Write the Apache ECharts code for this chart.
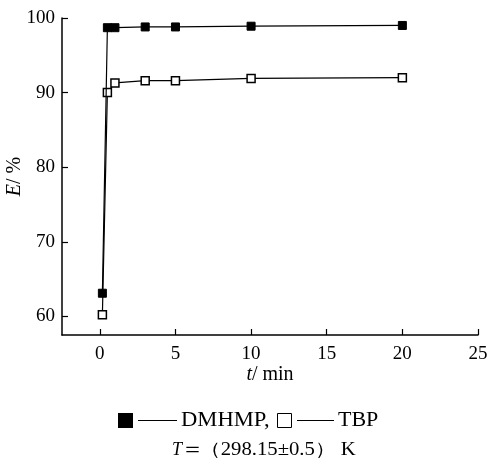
<!DOCTYPE html>
<html>
<head>
<meta charset="utf-8">
<script src="https://cdn.jsdelivr.net/npm/echarts@6/dist/echarts.min.js"></script>
<style>
  html, body { margin: 0; padding: 0; background: #fff; }
  #chart { width: 491px; height: 463px; }
</style>
</head>
<body>
<div id="chart"></div>
<script>
// Extraction efficiency E (%) versus contact time t (min)
const timeMin = [0.17, 0.5, 1, 3, 5, 10, 20];
const dmhmpE = [63.1, 98.7, 98.7, 98.8, 98.8, 98.9, 99.0];
const tbpE = [60.2, 90.0, 91.3, 91.6, 91.6, 91.9, 92.0];
const xTicks = [0, 5, 10, 15, 20, 25];
const yTicks = [60, 70, 80, 90, 100];

const SERIF = '"Liberation Serif", "Times New Roman", serif';
const chart = echarts.init(document.getElementById('chart'));

function pairs(xs, ys) {
  return xs.map((x, i) => [x, ys[i]]);
}

function axisLine() {
  return { show: true, onZero: false, lineStyle: { color: '#000', width: 1.5 } };
}
function axisTick(values) {
  return { show: true, inside: true, length: 6, customValues: values, lineStyle: { color: '#000', width: 1.2 } };
}
const nameRich = {
  i: { fontStyle: 'italic', fontFamily: SERIF, fontSize: 20, color: '#000' },
  n: { fontFamily: SERIF, fontSize: 20, color: '#000' }
};

chart.setOption({
  animation: false,
  backgroundColor: '#fff',
  grid: { left: 62, right: 13, top: 18, bottom: 128, containLabel: false, outerBoundsMode: 'none' },
  xAxis: {
    type: 'value',
    min: -2.5,
    max: 25,
    axisLine: axisLine(),
    axisTick: axisTick(xTicks),
    splitLine: { show: false },
    axisLabel: { customValues: xTicks, color: '#000', fontFamily: SERIF, fontSize: 19, margin: 10 },
    name: '{i|t}{n|/ min}',
    nameLocation: 'middle',
    nameGap: 30,
    nameMoveOverlap: false,
    nameTextStyle: { color: '#000', fontFamily: SERIF, fontSize: 20, rich: nameRich }
  },
  yAxis: {
    type: 'value',
    min: 57.5,
    max: 100,
    axisLine: axisLine(),
    axisTick: axisTick(yTicks),
    splitLine: { show: false },
    axisLabel: { customValues: yTicks, color: '#000', fontFamily: SERIF, fontSize: 19, margin: 7 },
    name: '{i|E}{n|/ %}',
    nameLocation: 'middle',
    nameGap: 37,
    nameRotate: 90,
    nameMoveOverlap: false,
    nameTextStyle: { color: '#000', fontFamily: SERIF, fontSize: 20, rich: nameRich }
  },
  series: [
    {
      name: 'DMHMP',
      type: 'line',
      data: pairs(timeMin, dmhmpE),
      symbol: 'rect',
      symbolSize: 8,
      showAllSymbol: true,
      lineStyle: { color: '#000', width: 1.2 },
      itemStyle: { color: '#000', borderColor: '#000', borderWidth: 1 },
      z: 3
    },
    {
      name: 'TBP',
      type: 'line',
      data: pairs(timeMin, tbpE),
      symbol: 'rect',
      symbolSize: 8,
      showAllSymbol: true,
      lineStyle: { color: '#000', width: 1.2 },
      itemStyle: { color: '#fff', borderColor: '#000', borderWidth: 1.5 },
      z: 2
    }
  ],
  graphic: [
    // key: filled square for DMHMP, open square for TBP
    { type: 'rect', shape: { x: 118, y: 413, width: 15, height: 15 }, style: { fill: '#000' } },
    { type: 'line', shape: { x1: 138, y1: 420.5, x2: 177, y2: 420.5 }, style: { stroke: '#000', lineWidth: 1 } },
    { type: 'text', x: 181, y: 421, scaleX: 1.13, style: { text: 'DMHMP,', font: '20px ' + SERIF, fill: '#000', verticalAlign: 'middle' } },
    { type: 'rect', shape: { x: 277.5, y: 413.5, width: 14, height: 14 }, style: { fill: '#fff', stroke: '#000', lineWidth: 1 } },
    { type: 'line', shape: { x1: 297, y1: 420.5, x2: 334, y2: 420.5 }, style: { stroke: '#000', lineWidth: 1 } },
    { type: 'text', x: 338, y: 421, scaleX: 1.1, style: { text: 'TBP', font: '20px ' + SERIF, fill: '#000', verticalAlign: 'middle' } },
    // temperature note
    { type: 'text', x: 172, y: 450, style: { text: 'T', font: 'italic 18px ' + SERIF, fill: '#000', verticalAlign: 'middle' } },
    { type: 'text', x: 184, y: 450, style: { text: '＝', font: '17px "Noto Sans CJK SC"', fill: '#000', verticalAlign: 'middle' } },
    { type: 'text', x: 200, y: 450, scaleX: 1.15, style: { text: '（298.15±0.5） K', font: '18px ' + SERIF, fill: '#000', verticalAlign: 'middle' } }
  ]
});
</script>
</body>
</html>
